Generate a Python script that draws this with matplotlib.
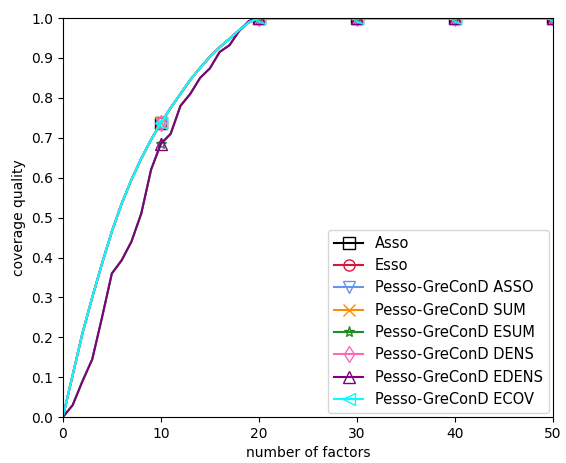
import numpy as np
import matplotlib.pyplot as plt

# coverage per number of factors (0..50)
factors = np.arange(0, 51)

cov_main = [0.0, 0.105, 0.21, 0.30, 0.385, 0.465, 0.535, 0.595, 0.648, 0.695,
            0.737, 0.775, 0.81, 0.845, 0.875, 0.903, 0.927, 0.948, 0.97, 0.99,
            1.0] + [1.0] * 30
cov_edens = [0.0, 0.03, 0.09, 0.145, 0.25, 0.36, 0.393, 0.44, 0.51, 0.62,
             0.685, 0.71, 0.78, 0.81, 0.85, 0.874, 0.915, 0.932, 0.968, 0.993,
             1.0] + [1.0] * 30

asso = cov_main
esso = cov_main
pg_asso = cov_main
pg_sum = cov_main
pg_esum = cov_edens
pg_dens = cov_main
pg_edens = cov_edens
pg_ecov = cov_main

series = [
    ('Asso', asso, 'black', 's'),
    ('Esso', esso, 'crimson', 'o'),
    ('Pesso-GreConD ASSO', pg_asso, 'cornflowerblue', 'v'),
    ('Pesso-GreConD SUM', pg_sum, 'darkorange', 'x'),
    ('Pesso-GreConD ESUM', pg_esum, 'forestgreen', '*'),
    ('Pesso-GreConD DENS', pg_dens, 'hotpink', 'd'),
    ('Pesso-GreConD EDENS', pg_edens, 'purple', '^'),
    ('Pesso-GreConD ECOV', pg_ecov, 'cyan', '<'),
]

fig, ax = plt.subplots(figsize=(5.66, 4.63), dpi=100)
fig.subplots_adjust(left=0.111, right=0.977, top=0.961, bottom=0.099)

marks = list(range(10, 51, 10))
for name, vals, col, mk in series:
    ax.plot(factors, vals, color=col, marker=mk, markevery=marks,
            markersize=8, markerfacecolor='none', markeredgewidth=1.0,
            linewidth=1.5, label=name)

ax.set_xlim(0, 50)
ax.set_ylim(0, 1)
ax.set_yticks(np.arange(0, 1.01, 0.1))
ax.set_xlabel('number of factors')
ax.set_ylabel('coverage quality')
ax.legend(loc='lower right', fontsize=10.5, borderaxespad=0.3)

fig.savefig('out.png', dpi=100)
